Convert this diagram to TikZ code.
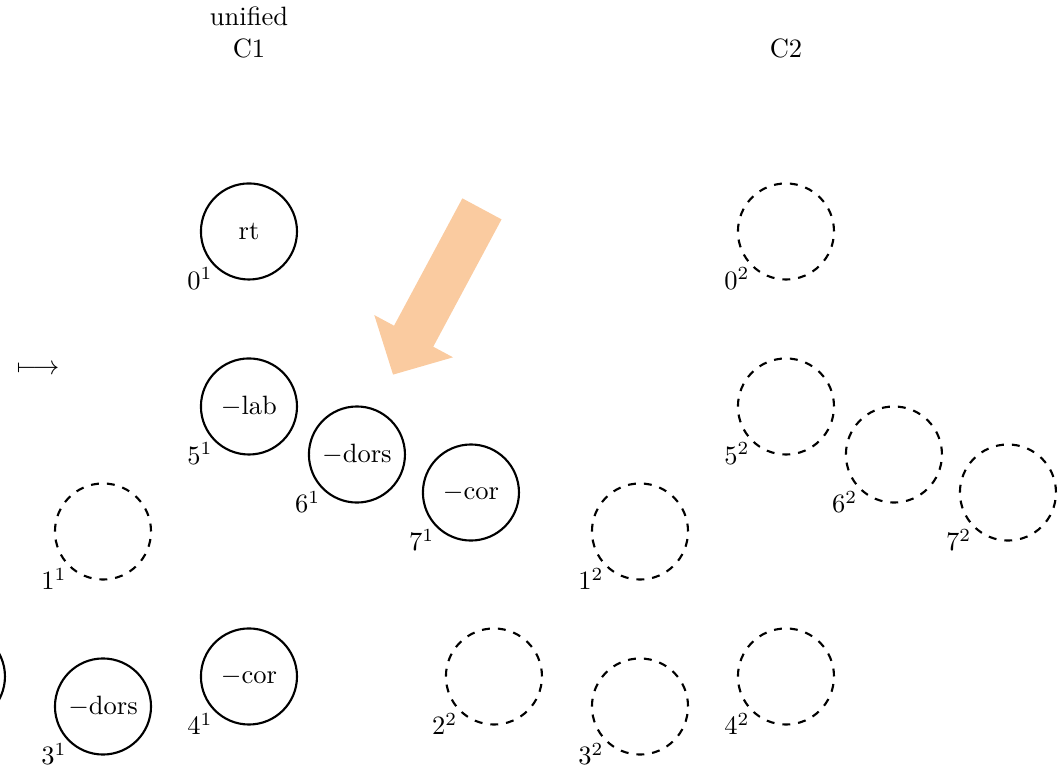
\documentclass[tikz,border=0pt]{standalone}
\usepackage{amsmath,amssymb}
\usetikzlibrary{arrows.meta,positioning}
\definecolor{hintorange}{RGB}{250,203,160}

\begin{document}
\begin{tikzpicture}[
    slot/.style={circle,draw,thick,minimum size=1.274cm,inner sep=0pt},
    hole/.style={slot,dashed},
    every label/.style={inner sep=0.5pt}
]
    \useasboundingbox (-3.302,-7.089) rectangle (10.743,3.070);

    % first copy, filled slots
    \begin{scope}
        \node[align=center,anchor=south] (t1) at (0,2.18) {unified\\C1};
        \node[slot,label=south west:$0^1$] (a0) at (0,0) {rt};
        \node[slot,label=south west:$5^1$] (a5) at (0,-2.321) {$-$lab};
        \node[slot,label=south west:$6^1$] (a6) at (1.432,-2.958) {$-$dors};
        \node[slot,label=south west:$7^1$] (a7) at (2.944,-3.462) {$-$cor};
        \node[hole,label=south west:$1^1$] (a1) at (-1.936,-3.979) {};
        \node[slot] (a2) at (-3.873,-5.902) {};
        \node[slot,label=south west:$4^1$] (a4) at (0,-5.902) {$-$cor};
        \node[slot,label=south west:$3^1$] (a3) at (-1.936,-6.300) {$-$dors};

        \node (maps) at (-2.799,-1.83) {$\longmapsto$};
    \end{scope}

    % second copy, all slots empty
    \begin{scope}[xshift=7.122cm]
        \node[anchor=south] (t2) at (0,2.18) {C2};
        \node[hole,label=south west:$0^2$] (b0) at (0,0) {};
        \node[hole,label=south west:$5^2$] (b5) at (0,-2.321) {};
        \node[hole,label=south west:$6^2$] (b6) at (1.432,-2.958) {};
        \node[hole,label=south west:$7^2$] (b7) at (2.944,-3.462) {};
        \node[hole,label=south west:$1^2$] (b1) at (-1.936,-3.979) {};
        \node[hole,label=south west:$2^2$] (b2) at (-3.873,-5.902) {};
        \node[hole,label=south west:$4^2$] (b4) at (0,-5.902) {};
        \node[hole,label=south west:$3^2$] (b3) at (-1.936,-6.300) {};
    \end{scope}

    % big hint arrow
    \coordinate (hstart) at (3.09,0.30);
    \coordinate (hend) at (1.91,-1.90);
    \draw[line width=0.59cm,hintorange,-{Triangle[length=0.58cm,width=1.15cm]}] (hstart) -- (hend);
\end{tikzpicture}
\end{document}
